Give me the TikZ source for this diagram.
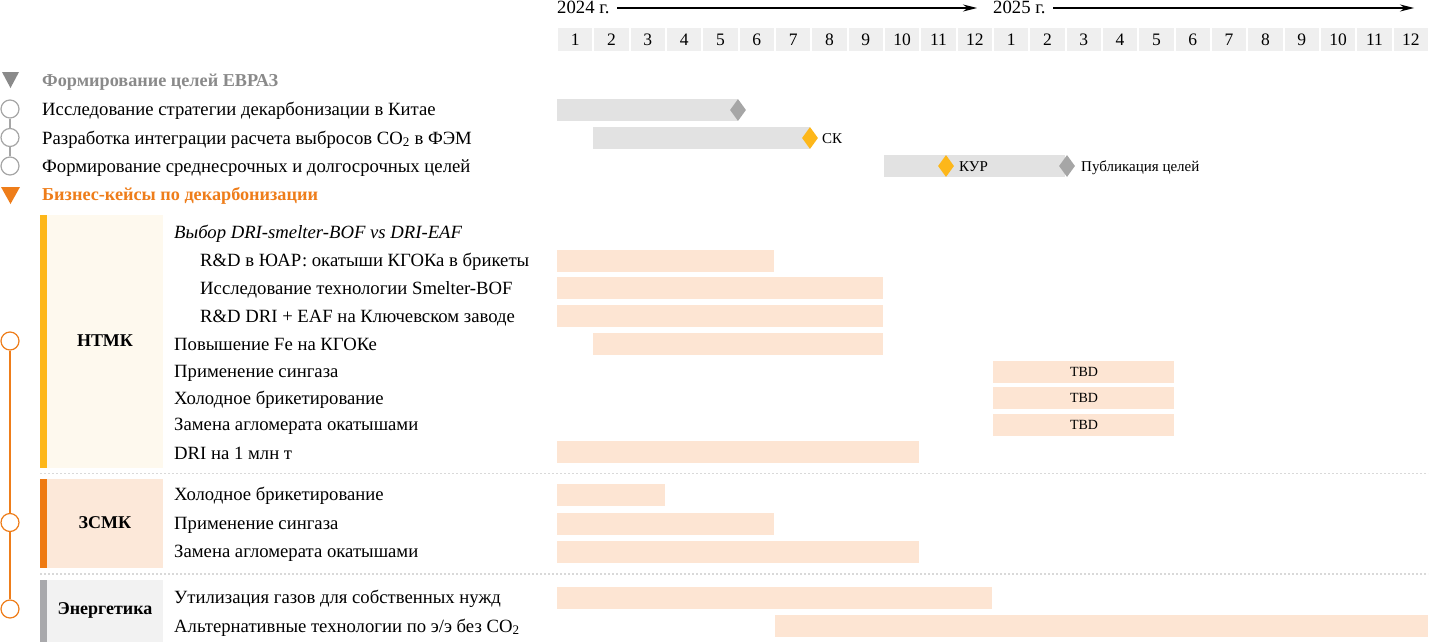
\documentclass[tikz,border=0pt]{standalone}
\usepackage{fontspec}
\setmainfont{Liberation Serif}
\usetikzlibrary{arrows.meta,shapes.geometric}
\definecolor{peach}{HTML}{FDE5D3}
\definecolor{lgray}{HTML}{E2E2E2}
\definecolor{cellgray}{HTML}{EFEFEF}
\definecolor{orng}{HTML}{EE7D1A}
\definecolor{amber}{HTML}{FDB71A}
\definecolor{dgray}{HTML}{A6A6A6}
\definecolor{headgray}{HTML}{8A8A8A}
\definecolor{cream}{HTML}{FEF9EE}
\definecolor{zfill}{HTML}{FCE8D9}
\definecolor{efill}{HTML}{F2F2F2}
\definecolor{ebar}{HTML}{A9A9AC}
\definecolor{zbar}{HTML}{EE7A12}
\definecolor{sepgray}{HTML}{D9D9D9}
\newcommand{\gbar}[4]{\fill[#4] ({558+36.33*(#1-1)-1},{#3-11}) rectangle ({558+36.33*(#2)-2},{#3+11});}
\tikzset{
  rowtext/.style={anchor=base west,inner sep=0pt,font=\fontsize{18.7}{21}\selectfont},
  headtext/.style={anchor=base west,inner sep=0pt,font=\fontsize{18.2}{21}\selectfont\bfseries},
  smalltext/.style={anchor=base west,inner sep=0pt,font=\fontsize{15}{17}\selectfont},
  monthcell/.style={fill=cellgray,minimum width=34.3pt,minimum height=23pt,inner sep=0pt,font=\fontsize{17.5}{19}\selectfont},
  milestone/.style={shape=diamond,minimum width=16pt,minimum height=22pt,inner sep=0pt},
  graycirc/.style={circle,draw=dgray,fill=white,line width=1.2pt,minimum size=18pt,inner sep=0pt},
  orcirc/.style={circle,draw=orng,fill=white,line width=1.2pt,minimum size=18pt,inner sep=0pt},
  boxlabel/.style={inner sep=0pt,font=\fontsize{18}{20}\selectfont\bfseries},
  sepline/.style={draw=sepgray,line width=1.5pt,dash pattern=on 2pt off 2pt},
  yeararrow/.style={line width=1.3pt,-{Stealth[length=14pt,width=7pt]}},
}
\begin{document}
\begin{tikzpicture}[x=1pt,y=-1pt]
\useasboundingbox (0,0) rectangle (1431,642);
% years
\node[rowtext] (y24) at (557,14) {2024 г.};
\coordinate (a24s) at (617,8);
\coordinate (a24) at (977,8);
\draw[yeararrow] (a24s) -- (a24);
\node[rowtext] (y25) at (993,14) {2025 г.};
\coordinate (a25s) at (1053,8);
\coordinate (a25) at (1414,8);
\draw[yeararrow] (a25s) -- (a25);
% month cells
\foreach \i in {1,...,24}{
  \pgfmathtruncatemacro{\m}{mod(\i-1,12)+1}
  \node[monthcell] (m\i) at ({558+36.33*(\i-1)+17.15},39.5) {\m};
}
% left markers
\fill[headgray] (2,72) -- (19,72) -- (10.5,88) -- cycle;
\node[graycirc] (c1) at (10,109) {};
\node[graycirc] (c2) at (10,137.5) {};
\node[graycirc] (c3) at (10,166) {};
\draw[dgray,line width=1.2pt] (c1) -- (c2);
\draw[dgray,line width=1.2pt] (c2) -- (c3);
\fill[orng] (1,187) -- (20,187) -- (10.5,204) -- cycle;
\node[orcirc] (o1) at (10,341) {};
\node[orcirc] (o2) at (10,522.5) {};
\node[orcirc] (o3) at (10,609) {};
\draw[orng,line width=1.2pt] (o1) -- (o2);
\draw[orng,line width=1.2pt] (o2) -- (o3);
% headings and rows
\node[headtext,text=headgray] (h1) at (42,86) {Формирование целей ЕВРАЗ};
\node[rowtext] (t1) at (42,115) {Исследование стратегии декарбонизации в Китае};
\node[rowtext] (t2) at (42,144) {Разработка интеграции расчета выбросов CO\textsubscript{2} в ФЭМ};
\node[rowtext] (t3) at (42,172) {Формирование среднесрочных и долгосрочных целей};
\node[headtext,text=orng] (h2) at (42,200) {Бизнес-кейсы по декарбонизации};
% group boxes
\fill[cream] (40,215) rectangle (163,468);
\fill[amber] (40,215) rectangle (47,468);
\node[boxlabel] (ntmk) at (105,341) {НТМК};
\fill[zfill] (40,479) rectangle (163,568);
\fill[zbar] (40,479) rectangle (47,568);
\node[boxlabel] (zsmk) at (105,523) {ЗСМК};
\fill[efill] (40,580) rectangle (163,642);
\fill[ebar] (40,580) rectangle (47,642);
\node[boxlabel] (energy) at (105,610) {Энергетика};
% separators
\coordinate (s1a) at (40,473.5); \coordinate (s1b) at (1428,473.5);
\draw[sepline] (s1a) -- (s1b);
\coordinate (s2a) at (40,574); \coordinate (s2b) at (1428,574);
\draw[sepline] (s2a) -- (s2b);
% NTMK rows
\node[rowtext,font=\fontsize{18.7}{21}\selectfont\itshape] (n0) at (174,238) {Выбор DRI-smelter-BOF vs DRI-EAF};
\node[rowtext] (n1) at (200,266) {R\&D в ЮАР: окатыши КГОКа в брикеты};
\node[rowtext] (n2) at (200,294) {Исследование технологии Smelter-BOF};
\node[rowtext] (n3) at (200,322) {R\&D DRI + EAF на Ключевском заводе};
\node[rowtext] (n4) at (174,350) {Повышение Fe на КГОКе};
\node[rowtext] (n5) at (174,377) {Применение сингаза};
\node[rowtext] (n6) at (174,404) {Холодное брикетирование};
\node[rowtext] (n7) at (174,430) {Замена агломерата окатышами};
\node[rowtext] (n8) at (174,459) {DRI на 1 млн т};
% ZSMK rows
\node[rowtext] (z1) at (174,500) {Холодное брикетирование};
\node[rowtext] (z2) at (174,529) {Применение сингаза};
\node[rowtext] (z3) at (174,557) {Замена агломерата окатышами};
% Energy rows
\node[rowtext] (e1) at (174,603) {Утилизация газов для собственных нужд};
\node[rowtext] (e2) at (174,632) {Альтернативные технологии по э/э без CO\textsubscript{2}};
% gantt bars: goals
\gbar{1}{5}{110}{lgray}
\gbar{2}{7}{138}{lgray}
\gbar{10}{14}{165.5}{lgray}
\node[milestone,fill=dgray] (d1) at (738,110) {};
\node[milestone,fill=amber] (d2) at (810,138) {};
\node[smalltext] (l2) at (822,143) {СК};
\node[milestone,fill=amber] (d3) at (946,166) {};
\node[smalltext] (l3) at (959,171) {КУР};
\node[milestone,fill=dgray] (d4) at (1067,166) {};
\node[smalltext] (l4) at (1081,171) {Публикация целей};
% gantt bars: business cases
\gbar{1}{6}{260.5}{peach}
\gbar{1}{9}{288}{peach}
\gbar{1}{9}{316}{peach}
\gbar{2}{9}{344}{peach}
\gbar{13}{17}{371.5}{peach}
\gbar{13}{17}{398}{peach}
\gbar{13}{17}{424.5}{peach}
\gbar{1}{10}{451.5}{peach}
\node[inner sep=0pt,font=\fontsize{14}{16}\selectfont] (tbd1) at (1084,371.5) {TBD};
\node[inner sep=0pt,font=\fontsize{14}{16}\selectfont] (tbd2) at (1084,398) {TBD};
\node[inner sep=0pt,font=\fontsize{14}{16}\selectfont] (tbd3) at (1084,424.5) {TBD};
\gbar{1}{3}{495}{peach}
\gbar{1}{6}{524}{peach}
\gbar{1}{10}{552}{peach}
\gbar{1}{12}{597.5}{peach}
\gbar{7}{24}{626}{peach}
\end{tikzpicture}
\end{document}
